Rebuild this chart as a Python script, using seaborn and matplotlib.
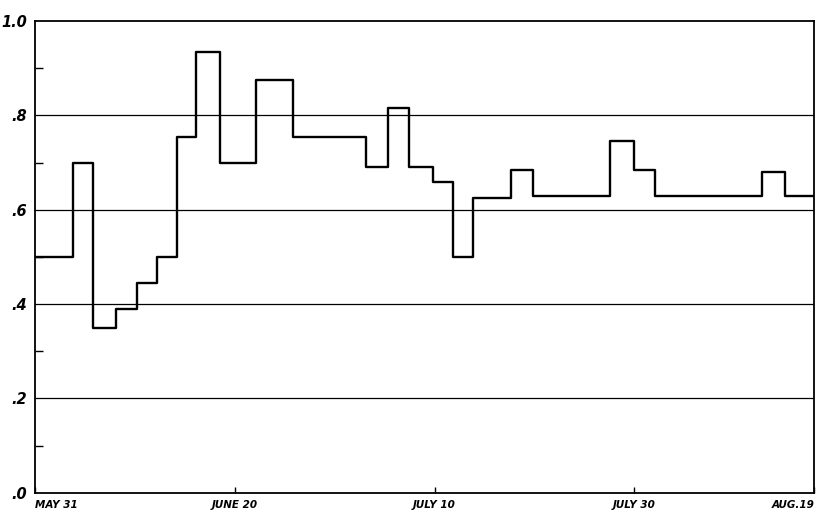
import numpy as np
import pandas as pd
import seaborn as sns
import matplotlib.pyplot as plt

# step edges in days after May 31, and the level held from each edge
day_start = [0, 3.8, 5.8, 8.1, 10.2, 12.2, 14.2, 16.1, 18.5, 22.1, 25.8, 33.1,
             35.3, 37.4, 39.8, 41.8, 43.8, 47.6, 49.9, 57.6, 60.0, 62.1, 72.8, 75.1]
level = [0.50, 0.70, 0.35, 0.39, 0.445, 0.50, 0.755, 0.935, 0.70, 0.875, 0.755, 0.69,
         0.815, 0.69, 0.66, 0.50, 0.625, 0.685, 0.63, 0.745, 0.685, 0.63, 0.68, 0.63]
day_end = 78

x_ticks = [0, 20, 40, 60, 78]
x_labels = ["MAY 31", "JUNE 20", "JULY 10", "JULY 30", "AUG.19"]
y_ticks = [0.0, 0.2, 0.4, 0.6, 0.8, 1.0]
y_labels = [".0", ".2", ".4", ".6", ".8", "1.0"]
grid_levels = [0.2, 0.4, 0.6, 0.8]

df = pd.DataFrame({"day": day_start + [day_end], "value": level + [level[-1]]})

sns.set_style("white")
fig = plt.figure(figsize=(8.17, 5.16), dpi=100)
ax = fig.add_axes([0.043, 0.045, 0.9535, 0.914])

for g in grid_levels:
    ax.axhline(g, color="black", lw=0.9, zorder=1)

sns.lineplot(data=df, x="day", y="value", drawstyle="steps-post",
             color="black", lw=1.7, ax=ax, zorder=3)

ax.set_xlim(0, day_end)
ax.set_ylim(0, 1.0)
ax.set_xlabel("")
ax.set_ylabel("")

ax.set_xticks(x_ticks)
ax.set_xticklabels(x_labels, fontsize=7.5, fontweight="bold", fontstyle="italic",
                   color="black")
ax.set_yticks(y_ticks)
ax.set_yticklabels(y_labels, fontsize=10.5, fontweight="bold", fontstyle="italic",
                   color="black")
ax.set_yticks([0.1, 0.3, 0.5, 0.7, 0.9], minor=True)

ax.tick_params(axis="x", direction="in", length=4, width=1, pad=5, bottom=True,
               color="black")
ax.tick_params(axis="y", which="major", length=0, pad=6, left=True)
ax.tick_params(axis="y", which="minor", direction="in", length=6, width=1, left=True,
               color="black")

xl = ax.get_xticklabels()
xl[0].set_ha("left")
xl[-1].set_ha("right")

for s in ax.spines.values():
    s.set_color("black")
    s.set_linewidth(1.3)

fig.savefig("out.png", dpi=100)
